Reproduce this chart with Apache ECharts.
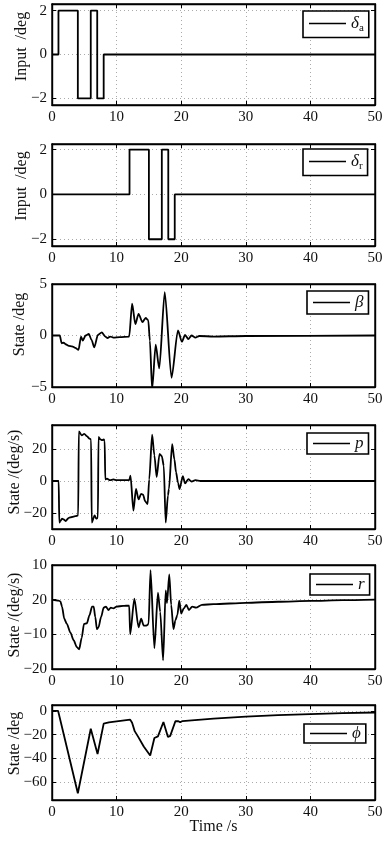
<!DOCTYPE html>
<html><head><meta charset="utf-8">
<script src="https://cdn.jsdelivr.net/npm/echarts@6/dist/echarts.min.js"></script>
<style>html,body{margin:0;padding:0;background:#fff}#c{width:389px;height:842px}</style>
</head><body><div id="c"></div>
<script>
// ---- data ----
const xTicks = [0, 10, 20, 30, 40, 50];

const daT = [0, 1, 1, 4, 4, 6, 6, 7, 7, 8, 8, 50];
const daV = [0, 0, 2, 2, -2, -2, 2, 2, -2, -2, 0, 0];

const drT = [0, 12, 12, 15, 15, 17, 17, 18, 18, 19, 19, 50];
const drV = [0, 0, 2, 2, -2, -2, 2, 2, -2, -2, 0, 0];

const betaT = [0, 1.2, 1.5, 1.8, 2.1, 2.6, 3.1, 3.6, 4.1, 4.5, 4.75, 5.2, 5.7, 6.1, 6.55, 7.1, 7.7, 8.25, 8.6, 9.0, 9.5, 10.5, 11.95, 12.4, 12.9, 13.4, 14.0, 14.5, 14.9, 15.15, 15.5, 16.05, 16.6, 17.45, 18.5, 19.5, 20.1, 20.6, 21.1, 21.6, 22.2, 22.8, 25, 30, 50];
const betaV = [0, 0, -0.75, -0.7, -0.85, -1.0, -1.05, -1.2, -1.4, -0.1, -0.5, 0, 0.15, -0.4, -1.15, 0.05, 0.3, -0.1, -0.25, -0.1, -0.2, -0.15, -0.1, 3.1, 1.1, 2.1, 1.3, 1.7, 1.5, -0.5, -5.2, -0.9, -3.2, 4.2, -4.1, 0.5, -0.6, 0.05, -0.35, 0, -0.2, -0.05, -0.1, -0.05, 0];

const pT = [0, 1.03, 1.13, 1.3, 1.55, 1.8, 2.1, 2.6, 3.1, 3.6, 4.05, 4.15, 4.6, 5.0, 5.4, 5.8, 6.05, 6.15, 6.6, 6.85, 7.1, 7.2, 7.5, 7.75, 8.0, 8.15, 8.25, 8.5, 9, 9.5, 10, 11, 11.95, 12.15, 12.6, 13.0, 13.4, 13.8, 14.1, 14.4, 14.8, 15.05, 15.5, 15.85, 16.2, 16.65, 17.0, 17.3, 17.6, 17.95, 18.1, 18.6, 18.95, 19.2, 19.5, 19.75, 20.25, 20.6, 21.1, 21.6, 22.2, 23, 50];
const pV = [0, 0, -26, -25, -23.5, -24, -25, -23, -22.5, -22, -21.5, 31, 28.5, 29.5, 28, 26.5, 26, -26, -21.5, -23.5, -23, 27.5, 26, 25.5, 26, 25, 1, 1.5, 0.5, 1, 0.5, 0.5, 0.5, 3.3, -18.5, -5, -11.5, -8, -8.5, -12.5, -14.5, 1, 29, 16, 2.5, 17, 15.5, 9.5, -26, -9, -5, 23, 13.5, 5.5, -1, -5, 3, -1.5, 1.2, -0.3, 0.5, 0, 0];

const rT = [0, 1.0, 1.3, 1.55, 1.9, 2.3, 2.85, 3.35, 3.85, 4.2, 4.6, 4.95, 5.4, 5.8, 6.2, 6.45, 6.7, 6.95, 7.2, 7.6, 8.0, 8.35, 8.75, 9.1, 9.5, 10, 11, 11.95, 12.1, 12.75, 13.4, 13.8, 14.2, 14.6, 14.95, 15.25, 15.85, 16.4, 16.75, 17.2, 17.6, 17.8, 18.15, 18.45, 18.8, 19.1, 19.4, 19.7, 20.0, 20.4, 20.8, 21.2, 21.7, 22.3, 23.2, 25, 30, 35, 40, 45, 50];
const rV = [0, -0.3, -0.5, -2, -5.5, -7, -9.5, -11.7, -13.7, -14.3, -11, -7, -6.8, -4.5, -2, -2, -5, -8.5, -8, -5, -2.3, -2, -3, -2.3, -2.5, -2, -1.8, -1.7, -10, 0.3, -8, -5.5, -7.5, -7.5, -7, 8.5, -14, 2, -3.5, -17.5, 2.7, -1, 7.3, -1.5, -8.5, -6, -4.5, -0.3, -4, -2.5, -1.5, -3, -2, -2.3, -1.5, -1.3, -0.9, -0.6, -0.35, -0.15, 0];

const phiT = [0, 0.95, 1.05, 4.0, 6.0, 7.05, 8.0, 8.8, 12.1, 12.4, 12.8, 13.3, 14.2, 15.2, 15.85, 16.4, 17.25, 17.95, 18.3, 19.1, 19.5, 19.85, 20.2, 25, 30, 35, 40, 45, 50];
const phiV = [0, 0, -1, -69.3, -15, -36.3, -10.7, -9.6, -7.3, -10, -17, -21.4, -29.9, -37.5, -22.8, -21.4, -9.3, -22, -21, -8.7, -8.5, -9.6, -8.5, -6.5, -4.8, -3.6, -2.7, -1.9, -1.3];

const yTicksIn = [-2, 0, 2];
const yLabelsIn = ['\u22122', '0', '2'];
const yTicksBeta = [-5, 0, 5];
const yLabelsBeta = ['\u22125', '0', '5'];
const yTicksP = [-20, 0, 20];
const yLabelsP = ['\u221220', '0', '20'];
const yTicksR = [-20, -10, 0, 10];
const yLabelsR = ['\u221220', '\u221210', '20', '10'];
const yTicksPhi = [-60, -40, -20, 0];
const yLabelsPhi = ['\u221260', '\u221240', '\u221220', '0'];

// ---- build ----
const FONT = 'Liberation Serif';
const pair = (t, v) => t.map((x, i) => [x, v[i]]);

const panels = [
  {name: 'δa', legend: '{i|δ}{s|a}', t: daT, v: daV, min: -2.3, max: 2.3, ticks: yTicksIn, labels: yLabelsIn, yname: 'Input  /deg', top: 4, h: 101, gap: 22, up: 8, leg: {left: 303, top: 11, pv: 4}},
  {name: 'δr', legend: '{i|δ}{s|r}', t: drT, v: drV, min: -2.3, max: 2.25, ticks: yTicksIn, labels: yLabelsIn, yname: 'Input  /deg', top: 144, h: 102, gap: 22, up: 9, leg: {left: 303, top: 149, pv: 4}},
  {name: 'β', legend: '{i|β}', t: betaT, v: betaV, min: -5, max: 5, ticks: yTicksBeta, labels: yLabelsBeta, yname: 'State /deg', top: 284, h: 103, gap: 24, up: 11, smooth: true, leg: {left: 307, top: 291, pv: 3}},
  {name: 'p', legend: '{i|p}', t: pT, v: pV, min: -30, max: 35, ticks: yTicksP, labels: yLabelsP, yname: 'State /(deg/s)', top: 425, h: 104, gap: 29, up: 5, smooth: true, leg: {left: 307, top: 433, pv: 2}},
  {name: 'r', legend: '{i|r}', t: rT, v: rV, min: -20, max: 10, ticks: yTicksR, labels: yLabelsR, yname: 'State /(deg/s)', top: 565, h: 104, gap: 29, up: 2, smooth: true, leg: {left: 310, top: 574, pv: 2}},
  {name: 'ϕ', legend: '{i|ϕ}', t: phiT, v: phiV, min: -75, max: 5, ticks: yTicksPhi, labels: yLabelsPhi, yname: 'State /deg', top: 705, h: 95, gap: 29, up: 9, leg: {left: 304, top: 724, pv: 1}}
];

const grid = [], xAxis = [], yAxis = [], series = [], legend = [];
const lblStyle = {fontFamily: FONT, fontSize: 15, color: '#111'};
panels.forEach((p, i) => {
  grid.push({left: 52, right: 14, top: p.top, height: p.h, show: true, borderColor: '#000', borderWidth: 1.4, containLabel: false, outerBoundsMode: 'none'});
  const last = i === panels.length - 1;
  xAxis.push({
    type: 'value', gridIndex: i, min: 0, max: 50, position: 'bottom',
    axisLine: {show: true, onZero: false, lineStyle: {color: '#000', width: 1.4}},
    axisTick: {show: true, inside: true, length: 4, customValues: xTicks, lineStyle: {color: '#000'}},
    axisLabel: {customValues: xTicks, margin: 5, ...lblStyle},
    splitLine: {show: true, lineStyle: {type: [1, 3], color: '#aaa', width: 1}},
    name: last ? 'Time /s' : '', nameLocation: 'middle', nameGap: 19, nameMoveOverlap: false,
    nameTextStyle: {fontFamily: FONT, fontSize: 16, color: '#111'}
  });
  xAxis.push({
    type: 'value', gridIndex: i, min: 0, max: 50, position: 'top',
    axisLine: {show: true, onZero: false, lineStyle: {color: '#000', width: 1.4}},
    axisTick: {show: true, inside: true, length: 4, customValues: xTicks, lineStyle: {color: '#000'}},
    axisLabel: {show: false}, splitLine: {show: false}
  });
  const lab = p.labels, tk = p.ticks;
  yAxis.push({
    type: 'value', gridIndex: i, min: p.min, max: p.max, position: 'left',
    axisLine: {show: true, onZero: false, lineStyle: {color: '#000', width: 1.4}},
    axisTick: {show: true, inside: true, length: 4, customValues: tk, lineStyle: {color: '#000'}},
    axisLabel: {customValues: tk, margin: 5, formatter: v => {const k = tk.indexOf(v); return k >= 0 ? lab[k] : '';}, ...lblStyle},
    splitLine: {show: true, lineStyle: {type: [1, 3], color: '#aaa', width: 1}},
    name: p.yname, nameLocation: 'middle', nameGap: p.gap, nameRotate: 90, nameMoveOverlap: false,
    nameTextStyle: {fontFamily: FONT, fontSize: 16, color: '#111', padding: [0, 0, 0, 2 * p.up]}
  });
  yAxis.push({
    type: 'value', gridIndex: i, min: p.min, max: p.max, position: 'right',
    axisLine: {show: true, onZero: false, lineStyle: {color: '#000', width: 1.4}},
    axisTick: {show: true, inside: true, length: 4, customValues: tk, lineStyle: {color: '#000'}},
    axisLabel: {show: false}, splitLine: {show: false}
  });
  series.push({
    type: 'line', name: p.name, xAxisIndex: 2 * i, yAxisIndex: 2 * i,
    data: pair(p.t, p.v), symbol: 'none', showSymbol: false,
    smooth: p.smooth ? 0.25 : false, smoothMonotone: 'x',
    lineStyle: {color: '#000', width: 1.8}, itemStyle: {color: '#000'}, animation: false
  });
  legend.push({
    show: true,
    data: [p.name], left: p.leg.left, top: p.leg.top,
    orient: 'horizontal', icon: 'rect', itemWidth: 37, itemHeight: 1.5, itemGap: 4,
    itemStyle: {color: '#000', borderWidth: 0},
    padding: [p.leg.pv, 5, p.leg.pv, 6], borderColor: '#000', borderWidth: 1.6, backgroundColor: '#fff',
    selectedMode: false,
    formatter: () => p.legend,
    textStyle: {fontFamily: FONT, fontSize: 16, color: '#111',
      rich: {i: {fontFamily: FONT, fontStyle: 'italic', fontSize: 17, color: '#111'},
             s: {fontFamily: FONT, fontSize: 11, color: '#111', verticalAlign: 'bottom', padding: [9, 0, 0, 0]}}}
  });
});

const chart = echarts.init(document.getElementById('c'), null, {renderer: 'canvas'});
chart.setOption({animation: false, backgroundColor: '#fff', grid, xAxis, yAxis, series, legend});
</script>
</body></html>
